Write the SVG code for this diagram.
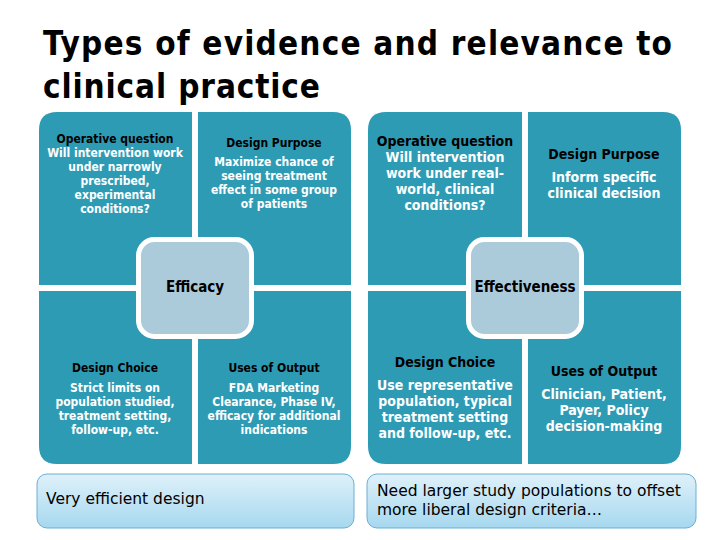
<svg xmlns="http://www.w3.org/2000/svg" width="720" height="540" viewBox="0 0 720 540">
<defs>
<linearGradient id="g" x1="0" y1="0" x2="0" y2="1"><stop offset="0" stop-color="#dff1fa"/><stop offset="1" stop-color="#a6d8ef"/></linearGradient>
<style>
.q{fill:#2e9bb5}
.c{fill:#abcbdb;stroke:#fff;stroke-width:5}
.b{fill:url(#g);stroke:#6aafd3;stroke-width:1}
.t{font-family:"DejaVu Sans Condensed","DejaVu Sans",sans-serif;font-weight:bold;text-anchor:middle}
.h{fill:#000}
.w{fill:#fff}
.s{font-size:12px}
.m{font-size:14px}
.k{font-size:15px}
.n{font-family:"DejaVu Sans",sans-serif;font-size:15.5px;fill:#000}
.ti{font-family:"DejaVu Sans Condensed","DejaVu Sans",sans-serif;font-weight:bold;font-size:33px;fill:#000}
</style>
</defs>
<rect width="720" height="540" fill="#fff"/>
<text class="ti" x="43" y="55" textLength="629">Types of evidence and relevance to</text>
<text class="ti" x="43" y="98" textLength="277">clinical practice</text>

<g id="efficacy-tl"><path class="q" d="M57,112 H192 V285 H39 V130 Q39,112 57,112Z"/>
<text class="t s"><tspan class="h" x="115" y="143">Operative question</tspan><tspan class="w" x="115" y="157">Will intervention work</tspan><tspan class="w" x="115" y="171">under narrowly</tspan><tspan class="w" x="115" y="185">prescribed,</tspan><tspan class="w" x="115" y="199">experimental</tspan><tspan class="w" x="115" y="213">conditions?</tspan></text></g>
<g id="efficacy-tr"><path class="q" d="M198,112 H333 Q351,112 351,130 V285 H198Z"/>
<text class="t s"><tspan class="h" x="274" y="147">Design Purpose</tspan><tspan class="w" x="274" y="166">Maximize chance of</tspan><tspan class="w" x="274" y="180">seeing treatment</tspan><tspan class="w" x="274" y="194">effect in some group</tspan><tspan class="w" x="274" y="208">of patients</tspan></text></g>
<g id="efficacy-bl"><path class="q" d="M39,291 H192 V464 H57 Q39,464 39,446Z"/>
<text class="t s"><tspan class="h" x="115" y="372">Design Choice</tspan><tspan class="w" x="115" y="392">Strict limits on</tspan><tspan class="w" x="115" y="406">population studied,</tspan><tspan class="w" x="115" y="420">treatment setting,</tspan><tspan class="w" x="115" y="434">follow-up, etc.</tspan></text></g>
<g id="efficacy-br"><path class="q" d="M198,291 H351 V446 Q351,464 333,464 H198Z"/>
<text class="t s"><tspan class="h" x="274" y="372">Uses of Output</tspan><tspan class="w" x="274" y="392">FDA Marketing</tspan><tspan class="w" x="274" y="406">Clearance, Phase IV,</tspan><tspan class="w" x="274" y="420">efficacy for additional</tspan><tspan class="w" x="274" y="434">indications</tspan></text></g>
<g id="efficacy"><rect class="c" x="138.5" y="239.5" width="113" height="97" rx="16"/>
<text class="t k h" x="195" y="292">Efficacy</text></g>
<g id="efficacy-note"><rect class="b" x="37" y="474" width="317" height="54" rx="10"/>
<text class="n" x="46" y="504">Very efficient design</text></g>

<g id="eff-tl"><path class="q" d="M386,112 H522 V285 H368 V130 Q368,112 386,112Z"/>
<text class="t m"><tspan class="h" x="445" y="146">Operative question</tspan><tspan class="w" x="445" y="162">Will intervention</tspan><tspan class="w" x="445" y="178">work under real-</tspan><tspan class="w" x="445" y="194">world, clinical</tspan><tspan class="w" x="445" y="210">conditions?</tspan></text></g>
<g id="eff-tr"><path class="q" d="M528,112 H663 Q681,112 681,130 V285 H528Z"/>
<text class="t m"><tspan class="h" x="604" y="159">Design Purpose</tspan><tspan class="w" x="604" y="182">Inform specific</tspan><tspan class="w" x="604" y="198">clinical decision</tspan></text></g>
<g id="eff-bl"><path class="q" d="M368,291 H522 V464 H386 Q368,464 368,446Z"/>
<text class="t m"><tspan class="h" x="445" y="367">Design Choice</tspan><tspan class="w" x="445" y="390">Use representative</tspan><tspan class="w" x="445" y="406">population, typical</tspan><tspan class="w" x="445" y="422">treatment setting</tspan><tspan class="w" x="445" y="438">and follow-up, etc.</tspan></text></g>
<g id="eff-br"><path class="q" d="M528,291 H681 V446 Q681,464 663,464 H528Z"/>
<text class="t m"><tspan class="h" x="604" y="376">Uses of Output</tspan><tspan class="w" x="604" y="399">Clinician, Patient,</tspan><tspan class="w" x="604" y="415">Payer, Policy</tspan><tspan class="w" x="604" y="431">decision-making</tspan></text></g>
<g id="effectiveness"><rect class="c" x="468.5" y="239.5" width="113" height="97" rx="16"/>
<text class="t k h" x="525" y="292">Effectiveness</text></g>
<g id="eff-note"><rect class="b" x="367" y="474" width="329" height="54" rx="10"/>
<text class="n"><tspan x="377" y="496">Need larger study populations to offset</tspan><tspan x="377" y="515">more liberal design criteria…</tspan></text></g>
<g id="connectors"/>
</svg>
